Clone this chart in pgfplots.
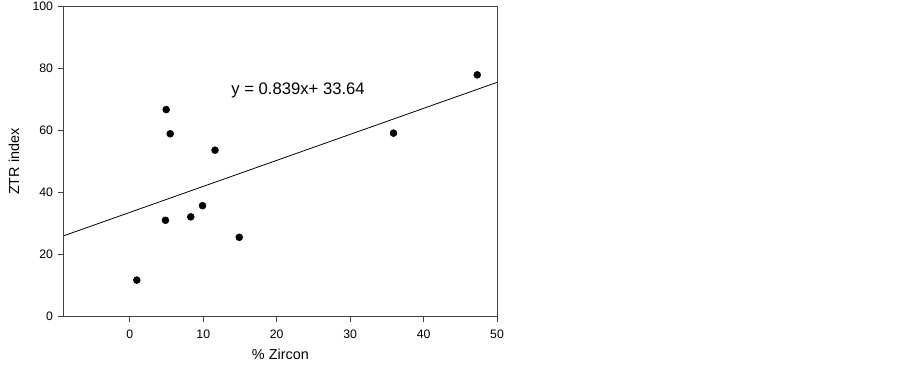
\documentclass[border=0pt]{standalone}
\usepackage{fontspec}
\setmainfont{Liberation Sans}
\usepackage{pgfplots}
\pgfplotsset{compat=1.18}
\begin{document}
\begin{tikzpicture}
\path[use as bounding box] (0,0) rectangle (677.25pt,276pt);
\begin{axis}[
  at={(47.8pt,38.5pt)}, anchor=south west,
  scale only axis, width=325pt, height=232.5pt,
  xmin=-9, xmax=50, ymin=0, ymax=100,
  xtick={0,10,...,50}, ytick={0,20,...,100},
  tick pos=left, tick align=outside,
  major tick length=4pt,
  axis line style={black!75, line width=0.7pt},
  every tick/.style={black!75, line width=0.7pt},
  /pgf/number format/assume math mode=true,
  tick label style={font=\fontsize{9.2}{11}\selectfont},
  xticklabel style={yshift=-2.5pt},
  yticklabel style={xshift=-0.5pt},
  xlabel={\% Zircon}, ylabel={ZTR index},
  label style={font=\fontsize{10.8}{13}\selectfont},
  xlabel style={at={(axis description cs:0.5,-0.1226)}, anchor=center},
  ylabel style={at={(axis description cs:-0.1147,0.5)}, anchor=center},
  clip=false,
]
\addplot[only marks, mark=*, mark size=2.6pt, black] coordinates {
  (0.95,11.8) (4.85,31.1) (4.95,66.8) (5.5,59.0) (8.3,32.2)
  (9.9,35.8) (11.6,53.7) (14.9,25.6) (35.9,59.2) (47.3,78.0)
};
\addplot[black, line width=0.6pt] coordinates {(-9,26.09) (50,75.59)};
\node[font=\fontsize{12.5}{15}\selectfont] at (axis cs:22.9,72.9) {y = 0.839x+ 33.64};
\end{axis}
\end{tikzpicture}
\end{document}
